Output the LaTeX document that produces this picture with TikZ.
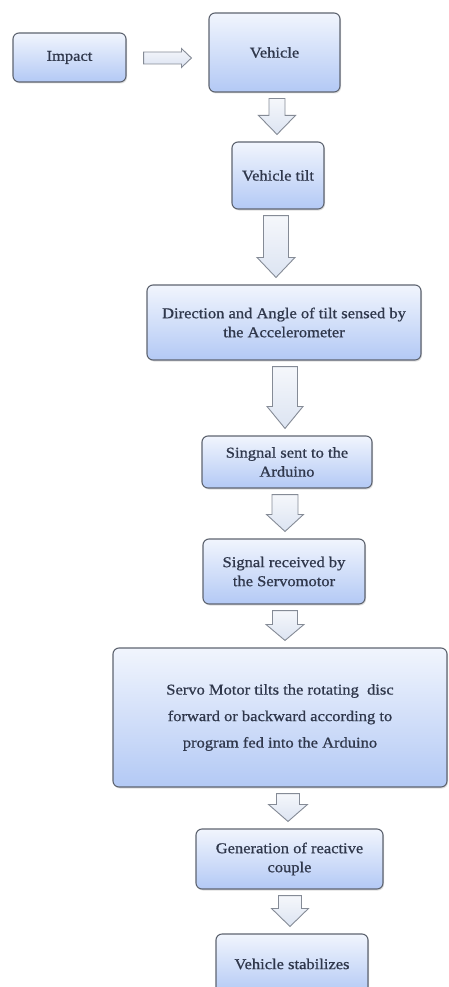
\documentclass[tikz,border=0pt]{standalone}
\usepackage{fontspec}
\setmainfont{Liberation Serif}[FakeStretch=1.1]
\newfontfamily\boxfont{Liberation Serif}[FakeStretch=1.1,FakeBold=0.8]
\usetikzlibrary{shadows,calc}
\definecolor{boxtop}{HTML}{F1F5FD}
\definecolor{boxbot}{HTML}{B3C9F5}
\definecolor{boxline}{HTML}{5E6470}
\definecolor{txt}{HTML}{2F374B}
\definecolor{arrtop}{HTML}{F5F7FB}
\definecolor{arrbot}{HTML}{DCE4F2}
\definecolor{arrline}{HTML}{858B96}
\tikzset{
  flowbox/.style={rectangle, rounded corners=6pt, draw=boxline, line width=1.1pt,
    top color=boxtop, bottom color=boxbot, text=txt, align=center,
    inner sep=0pt, font=\boxfont\fontsize{15}{19}\selectfont,
    drop shadow={opacity=0.25, shadow xshift=1pt, shadow yshift=-1.5pt}},
  blockarr/.style={draw=arrline, line width=0.9pt, top color=arrtop, bottom color=arrbot, line join=miter},
}
\newcommand{\vblock}[6]{%
  \path[blockarr] let \p1=(#1.south), \p2=(#2.north) in
   (#3pt-#4pt,\y1-6pt) -- (#3pt+#4pt,\y1-6pt) -- (#3pt+#4pt,\y2+7pt+#6pt)
   -- (#3pt+#5pt,\y2+7pt+#6pt) -- (#3pt,\y2+7pt) -- (#3pt-#5pt,\y2+7pt+#6pt)
   -- (#3pt-#4pt,\y2+7pt+#6pt) -- cycle;}
\begin{document}
\begin{tikzpicture}[x=1pt,y=-1pt]
\useasboundingbox (0,0) rectangle (449,987);
\clip (0,0) rectangle (449,987);
\node[flowbox, minimum width=113pt, minimum height=49pt] (impact) at (69.5,57.5) {Impact};
\node[flowbox, minimum width=131pt, minimum height=79pt] (vehicle) at (274.5,52.5) {Vehicle};
\node[flowbox, minimum width=92pt, minimum height=67pt] (tilt) at (278,175.5) {Vehicle tilt};
\node[flowbox, minimum width=274pt, minimum height=75pt] (accel) at (284,322.5) {Direction and Angle of tilt sensed by\\the Accelerometer};
\node[flowbox, minimum width=170pt, minimum height=52pt] (sent) at (287,462) {Singnal sent to the\\Arduino};
\node[flowbox, minimum width=162pt, minimum height=65pt] (recv) at (284,571.5) {Signal received by\\the Servomotor};
\node[flowbox, minimum width=334pt, minimum height=139pt, font=\boxfont\fontsize{15}{26.5}\selectfont] (servo) at (280,717.5) {Servo Motor tilts the rotating\ \ disc\\forward or backward according to\\program fed into the Arduino};
\node[flowbox, minimum width=187pt, minimum height=60pt] (couple) at (289.5,859) {Generation of reactive\\couple};
\node[flowbox, minimum width=152pt, minimum height=60pt] (stab) at (292,964) {Vehicle stabilizes};
% horizontal block arrow
\path[blockarr] let \p1=(impact.east), \p2=(vehicle.west) in
  (\x1+17pt,-52pt) -- (\x2-27pt,-52pt) -- (\x2-27pt,-48.5pt) -- (\x2-17pt,-58pt)
  -- (\x2-27pt,-67.5pt) -- (\x2-27pt,-64pt) -- (\x1+17pt,-64pt) -- cycle;
\vblock{vehicle}{tilt}{277}{8}{18.5}{19}
\vblock{tilt}{accel}{276}{12.5}{19}{20}
\vblock{accel}{sent}{285}{12.5}{18}{22}
\vblock{sent}{recv}{285}{13}{18.5}{17}
\vblock{recv}{servo}{285}{12.5}{19}{16}
\vblock{servo}{couple}{288}{11.5}{19.5}{17}
\vblock{couple}{stab}{290}{11.5}{18.5}{18}
\end{tikzpicture}
\end{document}
